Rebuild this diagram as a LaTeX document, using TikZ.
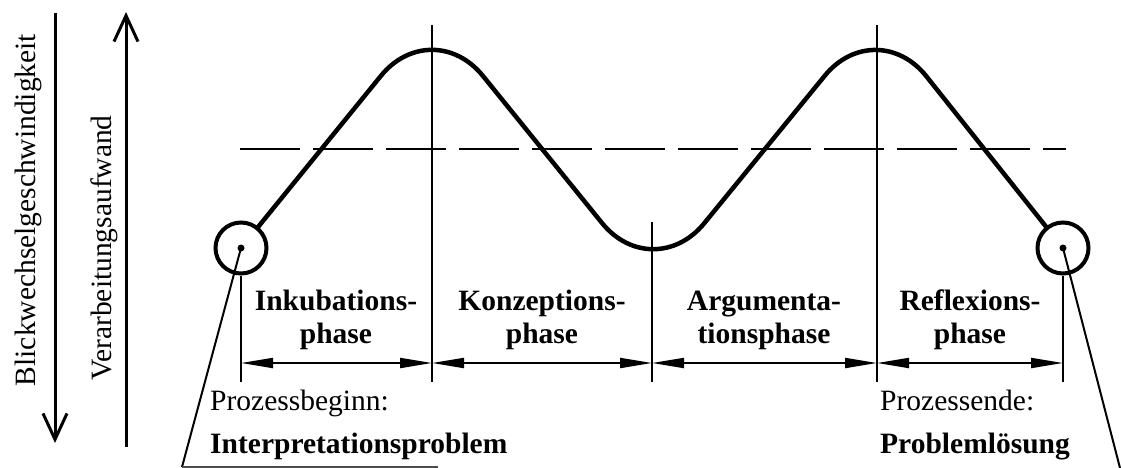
\documentclass[tikz,border=0pt]{standalone}
\usepackage{fontspec}
\setmainfont{Liberation Serif}
\usetikzlibrary{arrows.meta}

\tikzset{
  wave/.style={line width=4.5pt, rounded corners=81pt, line join=round},
  ring/.style={circle, draw, line width=4pt, minimum size=51pt, inner sep=0pt, fill=white},
  guide/.style={line width=2pt},
  level/.style={line width=2.5pt, dash pattern=on 60pt off 13pt},
  dimline/.style={line width=2pt, {Triangle[length=32pt,width=10pt]}-{Triangle[length=32pt,width=10pt]}},
  axis/.style={line width=3pt, -{Straight Barb[length=26pt,width=24pt]}},
  phase/.style={font=\bfseries\fontsize{29.5}{33}\selectfont, align=center, inner sep=0pt},
  endtext/.style={font=\fontsize{29.5}{33}\selectfont, anchor=base west, inner sep=0pt},
  endbold/.style={font=\bfseries\fontsize{29.5}{33}\selectfont, anchor=base west, inner sep=0pt},
  axislabel/.style={font=\fontsize{29.5}{33}\selectfont, rotate=90, inner sep=0pt},
}

\begin{document}
\begin{tikzpicture}[x=1pt, y=-1pt]
	\useasboundingbox (0,0) rectangle (1122,468);

	% axes on the left
	\coordinate (blickA) at (55,13);
	\coordinate (blickB) at (55,443);
	\coordinate (aufwA) at (126,447);
	\coordinate (aufwB) at (126,12);
	\draw[axis] (blickA) -- (blickB);
	\draw[axis] (aufwA) -- (aufwB);
	\node[axislabel] (blick) at (28,210) {Blickwechselgeschwindigkeit};
	\node[axislabel] (aufw) at (104,248) {Verarbeitungsaufwand};

	% course of the process
	\coordinate (start) at (241,248);
	\coordinate (peakA) at (432,13);
	\coordinate (valley) at (653,286);
	\coordinate (peakB) at (876,13);
	\coordinate (stop) at (1063,248);
	\draw[wave] (start) -- (peakA) -- (valley) -- (peakB) -- (stop);

	\coordinate (levelA) at (240,149);
	\coordinate (levelB) at (1066,149);
	\draw[level] (levelA) -- (levelB);

	\node[ring] (begin) at (start) {};
	\node[ring] (finish) at (stop) {};

	% phase borders
	\foreach \x [count=\i] in {241,432,652,877,1063}
		\coordinate (m\i) at (\x,363);
	\foreach \x [count=\i] in {241,432,652,877,1063}
		\coordinate (b\i) at (\x,382);
	\coordinate (t2) at (432,25);
	\coordinate (t3) at (652,222);
	\coordinate (t4) at (877,25);
	\draw[guide] (begin.south) -- (b1);
	\draw[guide] (t2) -- (b2);
	\draw[guide] (t3) -- (b3);
	\draw[guide] (t4) -- (b4);
	\draw[guide] (finish.south) -- (b5);

	\draw[dimline] (m1) -- (m2);
	\draw[dimline] (m2) -- (m3);
	\draw[dimline] (m3) -- (m4);
	\draw[dimline] (m4) -- (m5);

	\node[phase] (inku) at (336,320) {Inkubations-\\phase};
	\node[phase] (konz) at (542,320) {Konzeptions-\\phase};
	\node[phase] (argu) at (764,320) {Argumenta-\\tionsphase};
	\node[phase] (refl) at (970,320) {Reflexions-\\phase};

	% begin and end of the process
	\node[endtext] (beginn) at (210,410) {Prozessbeginn:};
	\node[endbold] (problem) at (210,453) {Interpretationsproblem};
	\node[endtext] (ende) at (880,410) {Prozessende:};
	\node[endbold] (loesung) at (880,453) {Problemlösung};

	\coordinate (kneeL) at (182,467);
	\coordinate (tailL) at (438,467);
	\coordinate (tailR) at (1120,468);
	\draw[guide] (begin.center) -- (kneeL);
	\draw[guide, line width=1.5pt, black!70] (kneeL) -- (tailL);
	\draw[guide] (finish.center) -- (tailR);
	\fill (begin.center) circle (3.5pt);
	\fill (finish.center) circle (3.5pt);
\end{tikzpicture}
\end{document}
